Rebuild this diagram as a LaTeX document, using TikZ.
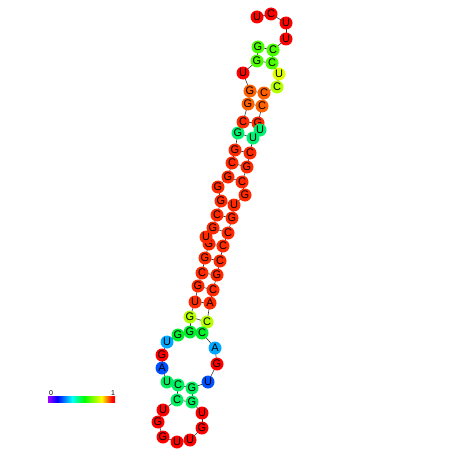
\documentclass[tikz,border=0pt]{standalone}
\usepackage{fontspec}
\setmainfont{Liberation Sans}
\usepackage{tikz}
\usetikzlibrary{calc}
\definecolor{cred}{HTML}{FF0000}
\definecolor{chel}{HTML}{FF2A00}
\definecolor{cora}{HTML}{FF6000}
\definecolor{clime}{HTML}{4CFF00}
\definecolor{cyel}{HTML}{E0FF00}
\definecolor{cyg}{HTML}{B4FF00}
\definecolor{cspr}{HTML}{00F070}
\definecolor{cgrn}{HTML}{00F030}
\definecolor{cgrn2}{HTML}{00F060}
\definecolor{ccyan}{HTML}{00A8FF}
\definecolor{cblue}{HTML}{0050FF}
\definecolor{cpurp}{HTML}{A000FF}
\pgfdeclarelayer{background}
\pgfsetlayers{background,main}
\pgfdeclarehorizontalshading{rainbowbar}{100bp}{color(0bp)=(cpurp); color(25bp)=(cpurp); color(32bp)=(blue); color(43bp)=(cyan); color(52bp)=(green); color(65bp)=(yellow); color(73bp)=(red); color(100bp)=(red)}

\begin{document}
\begin{tikzpicture}[x=1pt, y=-1pt, font=\fontsize{11}{11}\selectfont,
  base/.style={circle, inner sep=0pt, minimum size=13pt},
  bond/.style={line width=0.6pt, black!80}]
\useasboundingbox (0,0) rectangle (452,452);

% --- Basi (numero/x/y/lettera/colore) ---
\foreach \i/\x/\y/\b/\c in {
  1/257/17/U/cred, 2/271/14/C/cred, 3/286/23/U/cred, 4/286/39/U/cred,
  5/273/50/C/clime, 6/272/63/C/clime, 7/279/74/U/cyel, 8/277/87/C/cyg,
  9/264/93/C/cora, 10/262/106/C/cora, 11/258/123/G/chel, 12/260/130/U/cspr,
  13/253/138/U/cspr, 14/250/153/C/chel, 15/247/167/G/chel, 16/242/182/C/chel,
  17/245/195/G/chel, 18/234/205/U/chel, 19/232/218/G/chel, 20/228/233/C/chel,
  21/223/246/C/chel, 22/220/261/C/chel, 23/217/275/G/chel, 24/213/290/C/chel,
  25/210/303/A/chel, 26/207/322/C/cyg, 27/202/333/C/cgrn, 28/215/348/A/ccyan,
  29/217/364/G/cred, 30/208/382/U/cblue, 31/192/388/G/cgrn2, 32/192/402/G/cgrn2,
  33/202/413/U/cred, 34/202/428/G/cred, 35/190/440/U/cred, 36/177/442/U/cred,
  37/163/437/G/cred, 38/158/422/G/cred, 39/163/410/U/cred, 40/177/400/C/cgrn2,
  41/178/385/C/cgrn2, 42/167/382/U/cgrn2, 43/162/368/A/cblue, 44/162/355/G/cred,
  45/167/342/U/ccyan, 46/178/335/G/cgrn, 47/190/332/G/cgrn, 48/190/317/G/cyg,
  49/195/302/U/chel, 50/198/286/G/chel, 51/202/273/C/chel, 52/205/258/G/chel,
  53/209/244/G/chel, 54/206/237/U/chel, 55/213/228/G/chel, 56/217/215/C/chel,
  57/221/201/G/chel, 58/218/187/G/chel, 59/228/177/G/chel, 60/232/163/C/chel,
  61/235/150/G/chel, 62/238/133/G/cspr, 63/243/122/C/chel, 64/248/104/G/cora,
  65/250/91/G/cora, 66/243/73/U/cred, 67/257/61/G/clime, 68/258/47/G/clime}{
  \node[base, fill=\c] (n\i) at (\x,\y) {\b};
}

% --- Catena (backbone) ---
\begin{pgfonlayer}{background}
\foreach \i in {1,...,67}{
  \pgfmathtruncatemacro{\j}{\i+1}
  \draw[bond] (n\i.center) -- (n\j.center);
}
% --- Coppie di basi ---
\foreach \i/\j in {5/68, 6/67, 9/65, 10/64, 11/63, 13/62, 14/61, 15/60, 16/59,
  18/57, 19/56, 20/55, 21/53, 22/52, 23/51, 24/50, 25/49, 26/48, 27/47,
  31/41, 32/40}{
  \draw[bond] (n\i.center) -- (n\j.center);
}
\end{pgfonlayer}

% --- Barra dei colori ---
\shade[shading=rainbowbar] (48,396.5) rectangle (115,402.5);
\node[font=\fontsize{7}{7}\selectfont] (lbl0) at (51,393) {0};
\node[font=\fontsize{7}{7}\selectfont] (lbl1) at (113,393) {1};

\end{tikzpicture}
\end{document}
